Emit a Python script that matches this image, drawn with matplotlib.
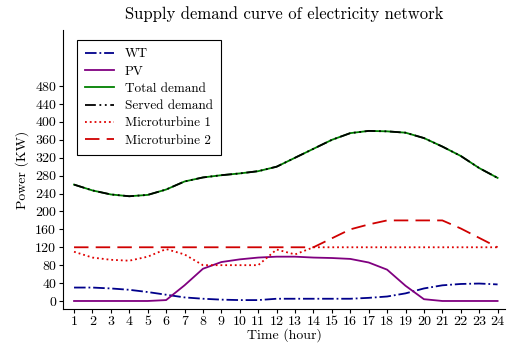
import matplotlib
matplotlib.use('Agg')
import matplotlib.pyplot as plt

plt.rcParams['font.family'] = 'serif'
plt.rcParams['font.serif'] = ['cmr10']
plt.rcParams['mathtext.fontset'] = 'cm'
plt.rcParams['axes.unicode_minus'] = False

hours = list(range(1, 25))
wt = [30, 30, 28, 25, 20, 14, 8, 5, 3, 2, 2, 5, 5, 5, 5, 5, 7, 10, 17, 28, 35, 38, 39, 37]
pv = [0, 0, 0, 0, 0, 2, 35, 72, 87, 93, 97, 99, 99, 97, 96, 94, 86, 70, 34, 4, 0, 0, 0, 0]
total_demand = [260, 247, 238, 234, 237, 249, 267, 276, 281, 285, 290, 300,
                320, 340, 360, 375, 380, 379, 376, 364, 345, 324, 297, 275]
served_demand = list(total_demand)
mt1 = [110, 97, 92, 90, 99, 116, 104, 80, 80, 80, 80, 115,
       104, 120, 120, 120, 120, 120, 120, 120, 120, 120, 120, 120]
mt2 = [120, 120, 120, 120, 120, 120, 120, 120, 120, 120, 120, 120,
       120, 120, 140, 160, 171, 180, 180, 180, 180, 162, 141, 120]
yticks = list(range(0, 481, 40))

fig = plt.figure(figsize=(5.08, 3.43), dpi=100)
ax = fig.add_axes([0.124, 0.099, 0.870, 0.813])

ax.plot(hours, wt, color='#00008b', linestyle='-.', lw=1.3, label='WT')
ax.plot(hours, pv, color='#800080', linestyle='-', lw=1.3, label='PV')
ax.plot(hours, total_demand, color='#008000', linestyle='-', lw=1.3, label='Total demand')
ax.plot(hours, served_demand, color='black', linestyle=(0, (6, 2, 1, 2, 1, 2)), lw=1.3,
        label='Served demand')
ax.plot(hours, mt1, color='#e00000', linestyle=':', lw=1.3, label='Microturbine 1')
ax.plot(hours, mt2, color='#d00000', linestyle=(0, (8, 4)), lw=1.3, label='Microturbine 2')

ax.set_xlim(0.4, 24.4)
ax.set_ylim(-18, 605)
ax.set_xticks(hours)
ax.set_yticks(yticks)
ax.tick_params(labelsize=10, length=3, pad=2)
ax.spines['top'].set_visible(False)
ax.spines['right'].set_visible(False)

ax.set_title('Supply demand curve of electricity network', fontsize=12, pad=8)
ax.set_xlabel('Time (hour)', fontsize=10, labelpad=0)
ax.set_ylabel('Power (KW)', fontsize=10, labelpad=4)

leg = ax.legend(loc='upper left', bbox_to_anchor=(0.032, 0.964), fontsize=9.5,
                fancybox=False, edgecolor='black', framealpha=1, borderaxespad=0,
                handlelength=2.2, labelspacing=0.38, borderpad=0.6)
leg.get_frame().set_linewidth(0.8)

fig.savefig('out.png', dpi=100)
